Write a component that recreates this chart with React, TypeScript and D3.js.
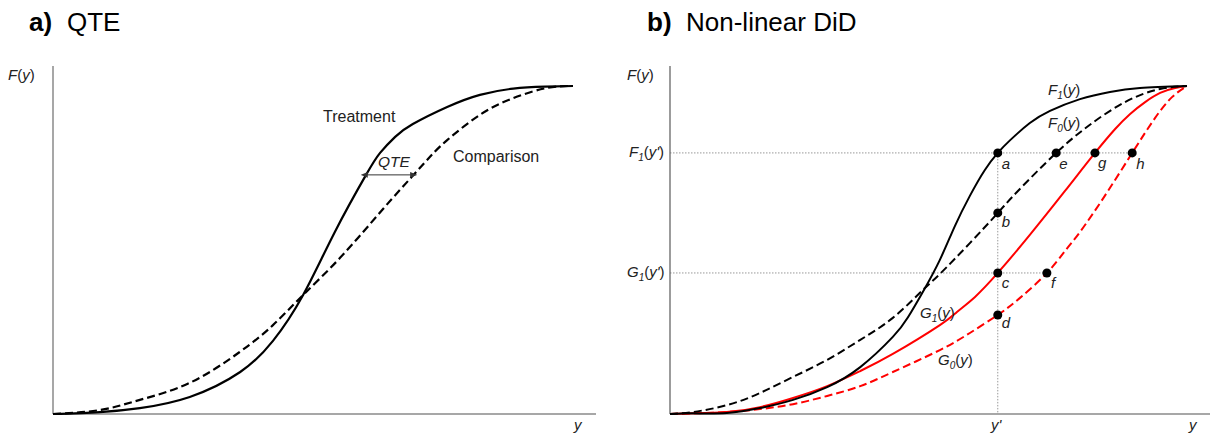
import React from "react";
import * as d3 from "d3";

// ---------- Data ----------
// Panel a: x in 0..100 (support of y), F in 0..1
const treatX = [0, 9.0, 16.7, 26.3, 36.0, 42.3, 48.1, 54.2, 60.2, 62.9, 65.8, 69.2, 75.8, 82.1, 88.5, 94.6, 100];
const treatF = [0, 0.006, 0.018, 0.052, 0.128, 0.223, 0.363, 0.555, 0.729, 0.796, 0.845, 0.884, 0.936, 0.973, 0.992, 0.998, 1];
const compX = [0, 9.0, 16.7, 26.3, 35.9, 42.3, 48.1, 55.2, 63.3, 69.0, 72.5, 75.8, 82.1, 88.5, 95.0, 100];
const compF = [0, 0.012, 0.043, 0.095, 0.189, 0.271, 0.363, 0.476, 0.622, 0.723, 0.784, 0.835, 0.912, 0.963, 0.994, 1];
const qteLevel = 0.729;
const qteFrom = 60.2;
const qteTo = 69.0;

// Panel b
const f1X = [0, 4.4, 11.0, 17.4, 23.8, 30.4, 36.8, 43.1, 46.0, 48.9, 52.2, 55.1, 58.0, 60.9, 63.4, 65.8, 69.6, 73.5, 79.3, 85.1, 90.9, 100];
const f1F = [0, 0.002, 0.003, 0.018, 0.043, 0.082, 0.143, 0.235, 0.294, 0.372, 0.47, 0.573, 0.665, 0.744, 0.796, 0.835, 0.887, 0.924, 0.96, 0.982, 0.994, 1];
const f0X = [0, 4.4, 11.0, 17.4, 23.8, 30.4, 36.8, 43.1, 48.9, 52.2, 58.0, 63.4, 67.3, 74.7, 80.9, 88.0, 94.8, 100];
const f0F = [0, 0.006, 0.027, 0.064, 0.113, 0.165, 0.226, 0.293, 0.378, 0.427, 0.521, 0.613, 0.68, 0.796, 0.878, 0.951, 0.991, 1];
const g1X = [0, 4.4, 11.0, 17.4, 23.8, 30.4, 36.8, 43.1, 52.2, 55.5, 59.0, 63.4, 69.6, 76.4, 82.2, 86.1, 89.0, 91.9, 94.8, 97.7, 100];
const g1F = [0, 0.002, 0.006, 0.021, 0.049, 0.085, 0.131, 0.183, 0.271, 0.311, 0.357, 0.43, 0.546, 0.68, 0.796, 0.869, 0.915, 0.951, 0.979, 0.994, 1];
const g0X = [0, 4.4, 11.0, 17.4, 23.8, 30.4, 36.8, 43.1, 52.2, 58.0, 63.4, 67.7, 72.9, 76.4, 79.3, 84.1, 89.4, 93.8, 97.1, 100];
const g0F = [0, 0.002, 0.006, 0.015, 0.03, 0.055, 0.085, 0.128, 0.195, 0.247, 0.302, 0.354, 0.43, 0.497, 0.555, 0.665, 0.796, 0.902, 0.966, 1];

const yPrime = 63.4;
const levelF1 = 0.796;
const levelG1 = 0.43;
const pointNames = ["a", "e", "g", "h", "b", "c", "f", "d"];
const pointX = [63.4, 74.7, 82.2, 89.4, 63.4, 63.4, 72.9, 63.4];
const pointF = [0.796, 0.796, 0.796, 0.796, 0.613, 0.43, 0.43, 0.302];

// ---------- Layout ----------
const W = 1214;
const H = 435;
const FONT = "'Liberation Sans', Arial, Helvetica, sans-serif";
const RED = "#ff0000";
const AXIS = "#8a8a8a";

const xA = d3.scaleLinear().domain([0, 100]).range([53, 573]);
const yA = d3.scaleLinear().domain([0, 1]).range([414, 86]);
const xB = d3.scaleLinear().domain([0, 100]).range([670, 1187]);
const yB = d3.scaleLinear().domain([0, 1]).range([414, 86]);

function makePath(xs: number[], fs: number[], sx: any, sy: any) {
  const pts: [number, number][] = xs.map((x, i) => [x, fs[i]]);
  const line = d3
    .line<[number, number]>()
    .x((d) => sx(d[0]))
    .y((d) => sy(d[1]))
    .curve(d3.curveNatural);
  return line(pts) || "";
}

const Sub = ({ base, sub, arg }: { base: string; sub: string; arg: string }) => (
  <>
    <tspan fontStyle="italic">{base}</tspan>
    <tspan fontStyle="italic" fontSize={10} dy={4}>{sub}</tspan>
    <tspan dy={-4}>(</tspan>
    <tspan fontStyle="italic">{arg}</tspan>
    <tspan>)</tspan>
  </>
);

export default function App() {
  const ptLabelOffsets: Record<string, [number, number]> = {
    a: [4, 16],
    e: [3, 16],
    g: [3, 15],
    h: [4, 16],
    b: [4, 14],
    c: [4, 15],
    f: [4, 15],
    d: [4, 13],
  };
  return (
    <svg
      width={W}
      height={H}
      viewBox={`0 0 ${W} ${H}`}
      style={{ position: "absolute", left: 0, top: 0, display: "block", background: "#fff" }}
      fontFamily={FONT}
    >
      <defs>
        <marker id="arrowL" viewBox="0 0 10 10" refX="1" refY="5" markerWidth="7" markerHeight="7" orient="auto-start-reverse">
          <path d="M0,1 L10,5 L0,9 z" fill="#333" />
        </marker>
      </defs>

      {/* ---------- Panel a ---------- */}
      <text x={29} y={31} fontSize={26} fill="#000">
        <tspan fontWeight="bold">a)</tspan>
        <tspan x={67}>QTE</tspan>
      </text>
      <text x={8} y={80} fontSize={15} fill="#222">
        <tspan fontStyle="italic">F</tspan>(<tspan fontStyle="italic">y</tspan>)
      </text>
      <line x1={53} y1={66} x2={53} y2={414} stroke={AXIS} strokeWidth={1.5} />
      <line x1={53} y1={414} x2={596} y2={414} stroke={AXIS} strokeWidth={1.5} />
      <text x={574} y={430} fontSize={15} fontStyle="italic" fill="#222">y</text>

      <path d={makePath(compX, compF, xA, yA)} fill="none" stroke="#000" strokeWidth={2.2} strokeDasharray="8,4" />
      <path d={makePath(treatX, treatF, xA, yA)} fill="none" stroke="#000" strokeWidth={2.2} />

      <line
        x1={xA(qteFrom) + 1}
        y1={yA(qteLevel)}
        x2={xA(qteTo) - 1}
        y2={yA(qteLevel)}
        stroke="#333"
        strokeWidth={1}
        markerStart="url(#arrowL)"
        markerEnd="url(#arrowL)"
      />
      <text x={378} y={167} fontSize={15.5} fontStyle="italic" fill="#222">QTE</text>
      <text x={323} y={122} fontSize={16} fill="#222">Treatment</text>
      <text x={453} y={162} fontSize={16} fill="#222">Comparison</text>

      {/* ---------- Panel b ---------- */}
      <text x={647} y={31} fontSize={26} fill="#000">
        <tspan fontWeight="bold">b)</tspan>
        <tspan x={686}>Non-linear DiD</tspan>
      </text>
      <text x={627} y={80} fontSize={15} fill="#222">
        <tspan fontStyle="italic">F</tspan>(<tspan fontStyle="italic">y</tspan>)
      </text>

      {/* dotted guides */}
      <line x1={xB(0)} y1={yB(levelF1)} x2={xB(pointX[3])} y2={yB(levelF1)} stroke="#999" strokeWidth={1} strokeDasharray="1.5,1.5" />
      <line x1={xB(0)} y1={yB(levelG1)} x2={xB(pointX[6])} y2={yB(levelG1)} stroke="#999" strokeWidth={1} strokeDasharray="1.5,1.5" />
      <line x1={xB(yPrime)} y1={yB(levelF1)} x2={xB(yPrime)} y2={yB(0)} stroke="#999" strokeWidth={1} strokeDasharray="1.5,1.5" />

      <line x1={670} y1={66} x2={670} y2={414} stroke="#666" strokeWidth={1.3} />
      <line x1={670} y1={414} x2={1210} y2={414} stroke={AXIS} strokeWidth={1.5} />
      <text x={991} y={430} fontSize={15} fontStyle="italic" fill="#222">y'</text>
      <text x={1189} y={430} fontSize={15} fontStyle="italic" fill="#222">y</text>

      <text x={629} y={157} fontSize={15} fill="#222">
        <Sub base="F" sub="1" arg="y'" />
      </text>
      <text x={627} y={277} fontSize={15} fill="#222">
        <Sub base="G" sub="1" arg="y'" />
      </text>

      <path d={makePath(g0X, g0F, xB, yB)} fill="none" stroke={RED} strokeWidth={2} strokeDasharray="8,4" />
      <path d={makePath(g1X, g1F, xB, yB)} fill="none" stroke={RED} strokeWidth={2} />
      <path d={makePath(f0X, f0F, xB, yB)} fill="none" stroke="#000" strokeWidth={2} strokeDasharray="8,4" />
      <path d={makePath(f1X, f1F, xB, yB)} fill="none" stroke="#000" strokeWidth={2} />

      {pointNames.map((n, i) => (
        <g key={n}>
          <circle cx={xB(pointX[i])} cy={yB(pointF[i])} r={4.5} fill="#000" />
          <text
            x={xB(pointX[i]) + ptLabelOffsets[n][0]}
            y={yB(pointF[i]) + ptLabelOffsets[n][1]}
            fontSize={15}
            fontStyle="italic"
            fill="#222"
          >
            {n}
          </text>
        </g>
      ))}

      <text x={1048} y={95} fontSize={15} fill="#222">
        <Sub base="F" sub="1" arg="y" />
      </text>
      <text x={1048} y={128} fontSize={15} fill="#222">
        <Sub base="F" sub="0" arg="y" />
      </text>
      <text x={920} y={318} fontSize={15} fill="#222">
        <Sub base="G" sub="1" arg="y" />
      </text>
      <text x={938} y={365} fontSize={15} fill="#222">
        <Sub base="G" sub="0" arg="y" />
      </text>
    </svg>
  );
}
